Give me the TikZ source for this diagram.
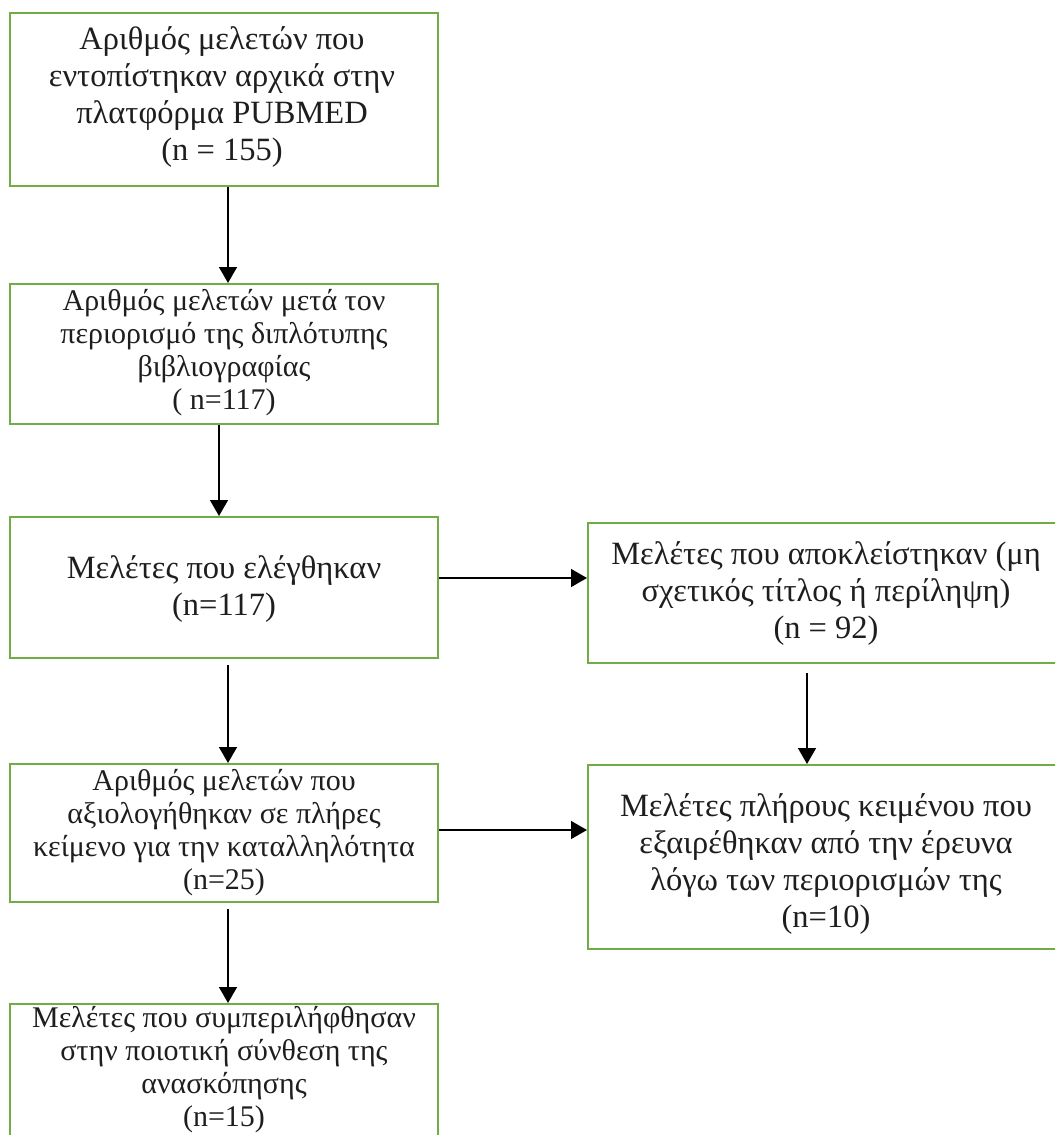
\documentclass[tikz,border=0pt]{standalone}
\usepackage{fontspec}
\setmainfont{Liberation Serif}
\usetikzlibrary{arrows.meta}
\definecolor{boxgreen}{RGB}{112,173,71}
\definecolor{txtcol}{RGB}{30,30,30}
\begin{document}
\begin{tikzpicture}[x=1pt,y=-1pt,
  box/.style={draw=boxgreen, line width=2pt, inner sep=0pt, fill=none},
  bigtxt/.style={align=center, inner sep=0pt, text=txtcol, font=\fontsize{32.5}{37}\selectfont},
  smalltxt/.style={align=center, inner sep=0pt, text=txtcol, font=\fontsize{30}{33}\selectfont},
  arr/.style={-{Triangle[width=18pt,length=16pt]}, line width=1.5pt, black}]
\useasboundingbox[fill=white] (0,0) rectangle (1055,1135);
\clip (0,0) rectangle (1055,1135);
% boxes
\node[box, minimum width=428pt, minimum height=173pt] (b1) at (224,99.5) {};
\node[box, minimum width=428pt, minimum height=140pt] (b2) at (224,354) {};
\node[box, minimum width=428pt, minimum height=141pt] (b3) at (224,587.5) {};
\node[box, minimum width=477pt, minimum height=140pt] (b4) at (826.5,593) {};
\node[box, minimum width=477pt, minimum height=184pt] (b5) at (826.5,857) {};
\node[box, minimum width=428pt, minimum height=138pt] (b6) at (224,833) {};
\node[box, minimum width=428pt, minimum height=146pt] (b7) at (224,1077) {};
% texts
\node[bigtxt] (t1) at (222,97) {Αριθμός μελετών που\\εντοπίστηκαν αρχικά στην\\πλατφόρμα PUBMED\\(n = 155)};
\node[smalltxt] (t2) at (224,353) {Αριθμός μελετών μετά τον\\περιορισμό της διπλότυπης\\βιβλιογραφίας\\( n=117)};
\node[bigtxt] (t3) at (224,589) {Μελέτες που ελέγθηκαν\\(n=117)};
\node[bigtxt] (t4) at (826,593) {Μελέτες που αποκλείστηκαν (μη\\σχετικός τίτλος ή περίληψη)\\(n = 92)};
\node[bigtxt] (t5) at (826,864) {Μελέτες πλήρους κειμένου που\\εξαιρέθηκαν από την έρευνα\\λόγω των περιορισμών της\\(n=10)};
\node[smalltxt] (t6) at (224,833) {Αριθμός μελετών που\\αξιολογήθηκαν σε πλήρες\\κείμενο για την καταλληλότητα\\(n=25)};
\node[smalltxt] (t7) at (224,1070) {Μελέτες που συμπεριλήφθησαν\\στην ποιοτική σύνθεση της\\ανασκόπησης\\(n=15)};
% arrows
\draw[arr] ([xshift=4pt]b1.south) -- ([xshift=4pt]b2.north);
\draw[arr] ([xshift=-5pt]b2.south) -- ([xshift=-5pt]b3.north);
\draw[arr] ([xshift=4pt,yshift=-6pt]b3.south) -- ([xshift=4pt]b6.north);
\draw[arr] ([xshift=4pt,yshift=-6pt]b6.south) -- ([xshift=4pt]b7.north);
\draw[arr] ([xshift=-19.5pt,yshift=-9pt]b4.south) -- ([xshift=-19.5pt]b5.north);
\draw[arr] ([yshift=9.5pt]b3.east) coordinate (h1) -- (h1 -| b4.west);
\draw[arr] ([yshift=3pt]b6.east) coordinate (h2) -- (h2 -| b5.west);
\end{tikzpicture}
\end{document}
